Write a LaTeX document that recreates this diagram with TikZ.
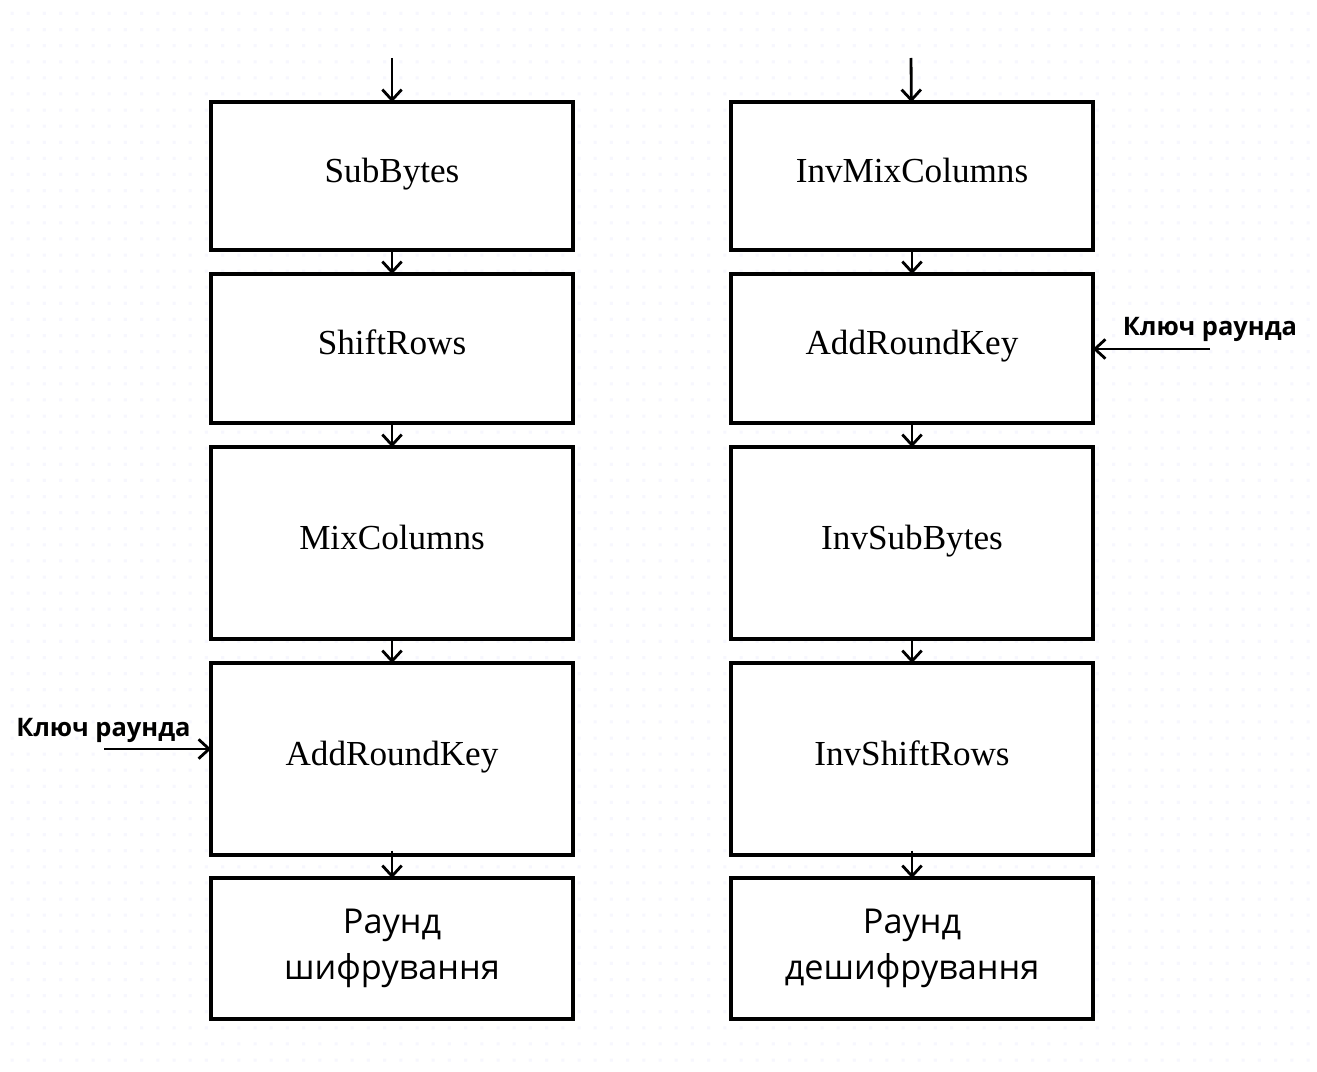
\documentclass[tikz,border=0pt]{standalone}
\usepackage{fontspec}
\setmainfont{Liberation Serif}
\newfontfamily\uisans{Open Sans}
\usetikzlibrary{arrows.meta}
\begin{document}
\begin{tikzpicture}[x=0.02cm,y=-0.02cm,
  blok/.style={draw,line width=1.8pt,minimum width=7.24cm,inner sep=0pt,text height=0.9em,text depth=0.2em,font=\fontsize{20}{24}\selectfont},
  kinec/.style={draw,line width=1.8pt,minimum width=7.24cm,inner sep=0pt,font=\uisans\fontsize{19.5}{26}\selectfont,align=center},
  arr/.style={line width=1.6pt,-{Straight Barb[length=6pt,width=11pt,line width=1.6pt]},shorten >=-1pt},
  kluch/.style={font=\uisans\bfseries\fontsize{14.5}{17}\selectfont}]
\useasboundingbox (0,0) rectangle (1317,1071);
\fill[white] (0,0) rectangle (1317,1071);
\fill[black!14!blue!3!white] \foreach \i in {0,...,80} {\foreach \j in {0,...,65} {(10.5+16.2*\i,12+16.1*\j) rectangle ++(3,3)}};
\node[blok,minimum height=2.96cm,fill=white] (sb) at (392,176) {SubBytes};
\node[blok,minimum height=2.98cm,fill=white] (sr) at (392,348.5) {ShiftRows};
\node[blok,minimum height=3.84cm,fill=white] (mc) at (392,543) {MixColumns};
\node[blok,minimum height=3.84cm,fill=white] (ark) at (392,759) {AddRoundKey};
\node[kinec,minimum height=2.82cm,fill=white] (rsh) at (392,948.5) {Раунд\\шифрування};
\node[blok,minimum height=2.96cm,fill=white] (imc) at (912,176) {InvMixColumns};
\node[blok,minimum height=2.98cm,fill=white] (iark) at (912,348.5) {AddRoundKey};
\node[blok,minimum height=3.84cm,fill=white] (isb) at (912,543) {InvSubBytes};
\node[blok,minimum height=3.84cm,fill=white] (isr) at (912,759) {InvShiftRows};
\node[kinec,minimum height=2.82cm,fill=white] (rdsh) at (912,948.5) {Раунд\\дешифрування};
\coordinate (vhL) at (392,58);
\coordinate (vhR) at (911,58);
\draw[arr] (vhL) -- (sb);
\draw[arr] (sb) -- (sr);
\draw[arr] (sr) -- (mc);
\draw[arr] (mc) -- (ark);
\draw[arr] (ark.south) ++(0,-6) -- (rsh);
\draw[arr] (vhR) -- (imc);
\draw[arr] (imc) -- (iark);
\draw[arr] (iark) -- (isb);
\draw[arr] (isb) -- (isr);
\draw[arr] (isr.south) ++(0,-6) -- (rdsh);
\node[kluch] (kL) at (103.5,730) {Ключ раунда};
\node[kluch] (kR) at (1210,329) {Ключ раунда};
\coordinate (kLs) at (104,749);
\coordinate (kRs) at (1210,349);
\draw[arr] (kLs) -- (kLs -| ark.west);
\draw[arr] (kRs) -- (kRs -| iark.east);
\end{tikzpicture}
\end{document}
